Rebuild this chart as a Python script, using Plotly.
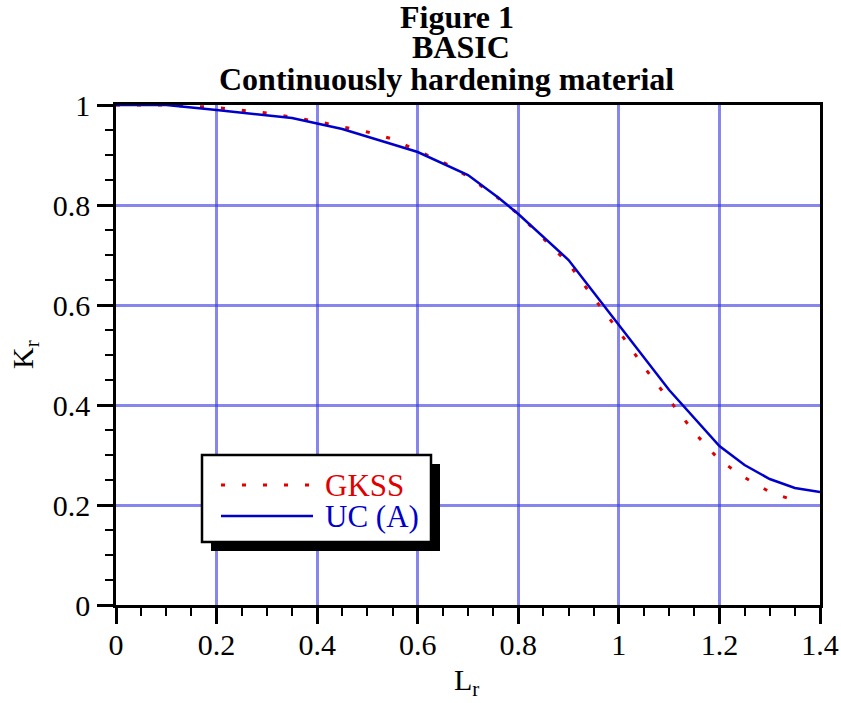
import plotly.graph_objects as go

# ---- data ----
gkss_lr = [0.0, 0.1, 0.2, 0.3, 0.4, 0.5, 0.55, 0.6, 0.65, 0.7, 0.76, 0.8, 0.85, 0.9,
           0.95, 1.0, 1.05, 1.1, 1.15, 1.2, 1.25, 1.3, 1.36]
gkss_kr = [1.0, 1.0, 0.995, 0.984, 0.967, 0.946, 0.932, 0.908, 0.886, 0.857, 0.814, 0.782,
           0.733, 0.683, 0.614, 0.548, 0.476, 0.41, 0.345, 0.29, 0.255, 0.226, 0.205]

uc_lr = [0.0, 0.1, 0.2, 0.35, 0.45, 0.6, 0.7, 0.76, 0.8, 0.9, 0.95, 1.0, 1.1, 1.2,
         1.25, 1.3, 1.35, 1.4]
uc_kr = [1.0, 1.0, 0.99, 0.974, 0.952, 0.906, 0.86, 0.815, 0.782, 0.69, 0.625, 0.56,
         0.43, 0.318, 0.28, 0.252, 0.234, 0.226]

x_ticks = [0, 0.2, 0.4, 0.6, 0.8, 1, 1.2, 1.4]
x_ticktext = ["0", "0.2", "0.4", "0.6", "0.8", "1", "1.2", "1.4"]
y_ticks = [0, 0.2, 0.4, 0.6, 0.8, 1]
y_ticktext = ["0", "0.2", "0.4", "0.6", "0.8", "1"]

title_lines = ["Figure 1", "BASIC", "Continuously hardening material"]
series_names = ["GKSS", "UC (A)"]

RED = "#e00000"
BLUE = "#0000cc"
FONT = "Liberation Serif"
GRID = "rgba(60,60,225,0.62)"

fig = go.Figure()
fig.add_trace(go.Scatter(x=gkss_lr, y=gkss_kr, mode="lines", name=series_names[0],
                         line=dict(color=RED, width=3, dash="4px,17px")))
fig.add_trace(go.Scatter(x=uc_lr, y=uc_kr, mode="lines", name=series_names[1],
                         line=dict(color=BLUE, width=2.5)))

axis_common = dict(
    showline=True, linecolor="black", linewidth=2.5, mirror=True,
    ticks="outside", ticklen=16, tickwidth=2.5, tickcolor="black",
    showgrid=True, gridcolor=GRID, gridwidth=3, zeroline=False,
    tickfont=dict(family=FONT, size=30, color="black"),
    minor=dict(dtick=0.05, ticks="outside", ticklen=8, tickwidth=2, tickcolor="black",
               showgrid=False),
    automargin=False,
)
fig.update_xaxes(range=[0, 1.4], tickvals=x_ticks, ticktext=x_ticktext,
                 ticklabelstandoff=-5, **axis_common)
fig.update_yaxes(range=[0, 1], tickvals=y_ticks, ticktext=y_ticktext,
                 ticklabelstandoff=1, **axis_common)

def px_x(p):
    return (p - 116) / 704.0

def px_y(p):
    return (605 - p) / 500.0

# title lines
for txt, cx, cy in zip(title_lines, [457, 461, 446], [17, 47, 79]):
    fig.add_annotation(text="<b>%s</b>" % txt, x=px_x(cx), y=px_y(cy), xref="paper", yref="paper",
                       showarrow=False, xanchor="center", yanchor="middle",
                       font=dict(family=FONT, size=32, color="black"))

# axis titles
fig.add_annotation(text="L<sub>r</sub>", x=px_x(466), y=px_y(682), xref="paper", yref="paper",
                   showarrow=False, xanchor="center", yanchor="middle",
                   font=dict(family=FONT, size=30, color="black"))
fig.add_annotation(text="K<sub>r</sub>", x=px_x(25), y=px_y(355), xref="paper", yref="paper",
                   showarrow=False, xanchor="center", yanchor="middle", textangle=-90,
                   font=dict(family=FONT, size=30, color="black"))

# manual legend: shadow, box, sample lines, texts
shapes = [
    dict(type="rect", xref="paper", yref="paper", x0=px_x(211), x1=px_x(440), y0=px_y(551), y1=px_y(464),
         fillcolor="black", line=dict(color="black", width=0), layer="above"),
    dict(type="rect", xref="paper", yref="paper", x0=px_x(202), x1=px_x(431), y0=px_y(542), y1=px_y(455),
         fillcolor="white", line=dict(color="black", width=2.5), layer="above"),
    dict(type="line", xref="paper", yref="paper", x0=px_x(221), x1=px_x(312), y0=px_y(485), y1=px_y(485),
         line=dict(color=RED, width=3, dash="4px,17px"), layer="above"),
    dict(type="line", xref="paper", yref="paper", x0=px_x(221), x1=px_x(313), y0=px_y(516), y1=px_y(516),
         line=dict(color=BLUE, width=2.5), layer="above"),
]
fig.update_layout(shapes=shapes)
for name, col, cy in zip(series_names, [RED, BLUE], [485, 516]):
    fig.add_annotation(text=name, x=px_x(323), y=px_y(cy), xref="paper", yref="paper",
                       showarrow=False, xanchor="left", yanchor="middle",
                       font=dict(family=FONT, size=31, color=col))

fig.update_layout(
    width=841, height=703,
    margin=dict(l=116, r=21, t=105, b=98),
    paper_bgcolor="white", plot_bgcolor="white",
    showlegend=False,
    font=dict(family=FONT, color="black"),
)

fig.write_html("out.html")
